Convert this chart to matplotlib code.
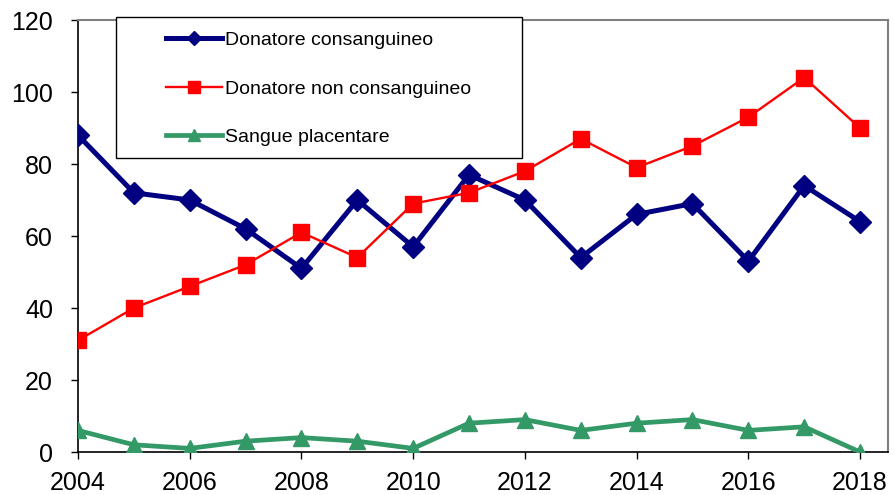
import matplotlib.pyplot as plt
from matplotlib.patches import Rectangle

plt.rcParams['font.family'] = ['Liberation Sans', 'DejaVu Sans']

# dati
anni = list(range(2004, 2019))
consanguineo = [88, 72, 70, 62, 51, 70, 57, 77, 70, 54, 66, 69, 53, 74, 64]
non_consanguineo = [31, 40, 46, 52, 61, 54, 69, 72, 78, 87, 79, 85, 93, 104, 90]
placentare = [6, 2, 1, 3, 4, 3, 1, 8, 9, 6, 8, 9, 6, 7, 0]

W, H = 895, 495
fig = plt.figure(figsize=(W / 100, H / 100), dpi=100)
ax = fig.add_axes([78/W, 43/H, 810/W, 432/H])

ax.plot(anni, consanguineo, color='#000080', lw=3.6, marker='D', ms=11,
        label='Donatore consanguineo', zorder=3)
ax.plot(anni, non_consanguineo, color='#FF0000', lw=1.7, marker='s', ms=12,
        label='Donatore non consanguineo', zorder=4)
ax.plot(anni, placentare, color='#339966', lw=3.4, marker='^', ms=12,
        label='Sangue placentare', zorder=3)

ax.set_xlim(2004, 2018.5)
ax.set_ylim(0, 120)
ax.set_xticks(range(2004, 2019, 2))
ax.set_yticks(range(0, 121, 20))
ax.tick_params(labelsize=18, direction='out', length=5, width=1, colors='black')
ax.tick_params(axis='y', pad=13)
ax.tick_params(axis='x', pad=8.5)
for s in ['top', 'right']:
    ax.spines[s].set_color('#808080')
    ax.spines[s].set_linewidth(1.5)
for s in ['left', 'bottom']:
    ax.spines[s].set_linewidth(1.2)

# legenda senza cornice + rettangolo disegnato a parte
leg = fig.legend(*ax.get_legend_handles_labels(), loc='upper left',
                 bbox_to_anchor=(166/W, 1 - 31.5/H), bbox_transform=fig.transFigure,
                 fontsize=14, frameon=False, handlelength=2.9,
                 handletextpad=0.15, labelspacing=1.59, borderpad=0,
                 borderaxespad=0)
leg.set_zorder(6)
ms_leg = [7, 8, 8]
for h, m in zip(leg.legend_handles, ms_leg):
    h.set_markersize(m)

fig.patches.append(Rectangle((116/W, 1 - 158/H), 406/W, 141/H,
                             transform=fig.transFigure, facecolor='white',
                             edgecolor='black', lw=1, zorder=5))

fig.savefig('out.png', dpi=100)
